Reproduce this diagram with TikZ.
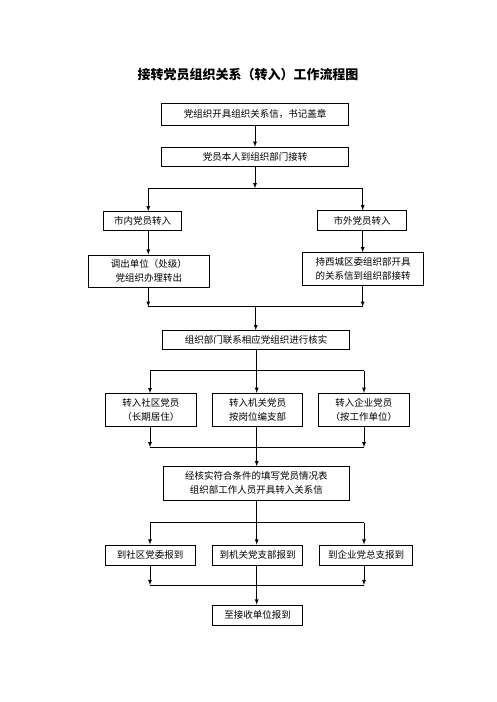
\documentclass[tikz,border=0pt]{standalone}
\usepackage{fontspec}
\newfontfamily\cjk{Noto Sans CJK SC}
\begin{document}
\begin{tikzpicture}[x=1pt,y=-1pt,
    box/.style={draw,line width=0.9pt,align=center,inner sep=0pt,font=\cjk\fontsize{9.5}{14}\selectfont},
    arr/.style={-latex,line width=0.8pt},
    ln/.style={line width=0.8pt}]
  \useasboundingbox (0,0) rectangle (496,702);
  \node[font=\cjk\bfseries\fontsize{13}{15}\selectfont] (title) at (248,75) {接转党员组织关系（转入）工作流程图};
  % first part
  \node[box,minimum width=187,minimum height=22] (letter) at (255,114) {党组织开具组织关系信，书记盖章};
  \node[box,minimum width=187,minimum height=19.5] (member) at (255,157) {党员本人到组织部门接转};
  \node[box,minimum width=78,minimum height=18.5] (city) at (142.5,221) {市内党员转入};
  \node[box,minimum width=89,minimum height=19.5] (outcity) at (362,220.5) {市外党员转入};
  \node[box,minimum width=121,minimum height=32.7] (unitout) at (148.8,271.3) {调出单位（处级）\\党组织办理转出};
  \node[box,minimum width=120.6,minimum height=32.3] (xicheng) at (363,268.8) {持西城区委组织部开具\\的关系信到组织部接转};
  \node[box,minimum width=186.6,minimum height=18.6] (verify) at (256,340) {组织部门联系相应党组织进行核实};
  \node[box,minimum width=91.7,minimum height=32.7] (community) at (150.8,410) {转入社区党员\\（长期居住）};
  \node[box,minimum width=90,minimum height=32.7] (organ) at (257.7,409.7) {转入机关党员\\按岗位编支部};
  \node[box,minimum width=91,minimum height=32.7] (enterprise) at (363.8,409.7) {转入企业党员\\（按工作单位）};
  \node[box,minimum width=186,minimum height=33.3] (fillform) at (256.3,483.3) {经核实符合条件的填写党员情况表\\组织部工作人员开具转入关系信};
  \node[box,minimum width=90,minimum height=20] (repcomm) at (150,555) {到社区党委报到};
  \node[box,minimum width=90,minimum height=20] (reporgan) at (257.7,555) {到机关党支部报到};
  \node[box,minimum width=93.4,minimum height=20] (repent) at (366,555) {到企业党总支报到};
  \node[box,minimum width=90,minimum height=20] (final) at (257.7,615) {至接收单位报到};
  % junctions
  \coordinate (s1) at (255,188.3);
  \coordinate (s1l) at (148.3,188.3);
  \coordinate (s1r) at (362.7,188.3);
  \coordinate (m1) at (255.7,306.7);
  \coordinate (m1l) at (148.3,306.7);
  \coordinate (m1r) at (362.7,306.7);
  \coordinate (s2) at (256.7,370.7);
  \coordinate (s2l) at (150,370.7);
  \coordinate (s2r) at (364,370.7);
  \coordinate (m2l) at (150,447.3);
  \coordinate (m2r) at (364,447.3);
  \coordinate (s3) at (256.7,522.7);
  \coordinate (s3l) at (150,522.7);
  \coordinate (s3r) at (364,522.7);
  \coordinate (m3l) at (150,585);
  \coordinate (m3r) at (364,585);
  % connectors
  \draw[arr] (letter) -- (member);
  \draw[arr] (member) -- (s1);
  \draw[ln] (s1l) -- (s1r);
  \draw[arr] (s1l) -- (city.north -| s1l);
  \draw[arr] (s1r) -- (outcity.north -| s1r);
  \draw[arr] (city.south -| s1l) -- (unitout.north -| s1l);
  \draw[arr] (outcity.south -| s1r) -- (xicheng.north -| s1r);
  \draw[arr] (unitout.south -| m1l) -- (m1l);
  \draw[arr] (xicheng.south -| m1r) -- (m1r);
  \draw[ln] (m1l) -- (m1r);
  \draw[arr] (m1) -- (verify.north -| m1);
  \draw[ln] (verify.south -| s2) -- (s2);
  \draw[ln] (s2l) -- (s2r);
  \draw[arr] (s2l) -- (community.north -| s2l);
  \draw[arr] (s2) -- (organ.north -| s2);
  \draw[arr] (s2r) -- (enterprise.north -| s2r);
  \draw[arr] (community.south -| m2l) -- (m2l);
  \draw[arr] (enterprise.south -| m2r) -- (m2r);
  \draw[ln] (m2l) -- (m2r);
  \draw[arr] (organ.south -| s2) -- (fillform.north -| s2);
  \draw[ln] (fillform.south -| s3) -- (s3);
  \draw[ln] (s3l) -- (s3r);
  \draw[arr] (s3l) -- (repcomm.north -| s3l);
  \draw[arr] (s3) -- (reporgan.north -| s3);
  \draw[arr] (s3r) -- (repent.north -| s3r);
  \draw[arr] (repcomm.south -| m3l) -- (m3l);
  \draw[arr] (repent.south -| m3r) -- (m3r);
  \draw[ln] (m3l) -- (m3r);
  \draw[arr] (reporgan.south -| s3) -- (final.north -| s3);
\end{tikzpicture}
\end{document}
